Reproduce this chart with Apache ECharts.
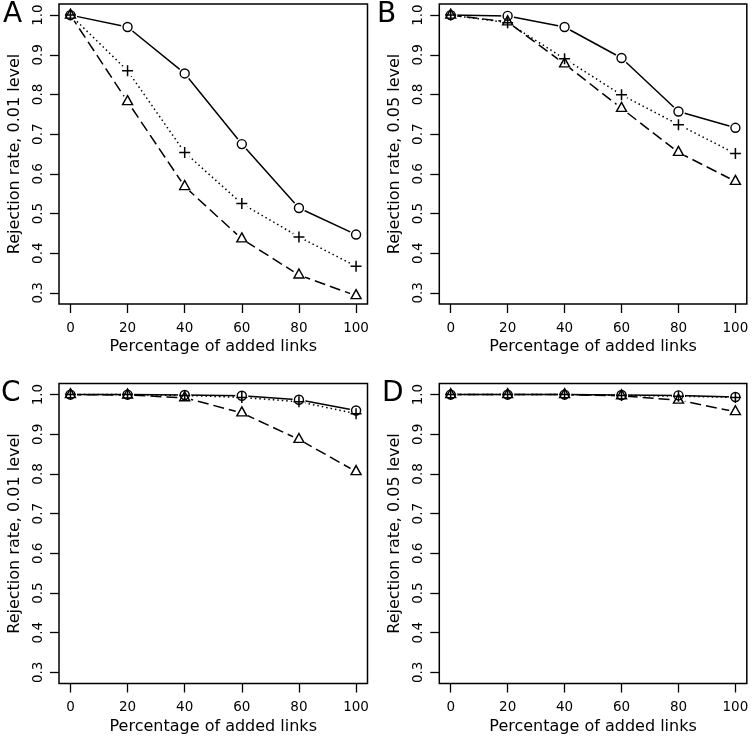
<!DOCTYPE html>
<html>
<head>
<meta charset="utf-8">
<script src="https://cdn.jsdelivr.net/npm/echarts@6/dist/echarts.min.js"></script>
<style>
  html, body { margin: 0; padding: 0; background: #fff; }
  #chart { width: 752px; height: 742px; }
</style>
</head>
<body>
<div id="chart"></div>
<script>
  // x values (percentage of added links)
  const xValues = [0, 20, 40, 60, 80, 100];
  const xTicks = [0, 20, 40, 60, 80, 100];
  const yTicks = [0.3, 0.4, 0.5, 0.6, 0.7, 0.8, 0.9, 1.0];

  // panel A: 0.01 level
  const circleA = [1.0, 0.970, 0.853, 0.675, 0.514, 0.447];
  const plusA   = [1.0, 0.860, 0.654, 0.525, 0.441, 0.367];
  const triA    = [1.0, 0.782, 0.568, 0.436, 0.345, 0.293];
  // panel B: 0.05 level
  const circleB = [1.0, 0.998, 0.970, 0.892, 0.757, 0.716];
  const plusB   = [1.0, 0.981, 0.890, 0.799, 0.724, 0.651];
  const triB    = [1.0, 0.983, 0.877, 0.765, 0.654, 0.581];
  // panel C: 0.01 level
  const circleC = [1.0, 1.0, 0.999, 0.997, 0.987, 0.960];
  const plusC   = [1.0, 1.0, 0.998, 0.993, 0.982, 0.952];
  const triC    = [1.0, 0.999, 0.992, 0.954, 0.887, 0.806];
  // panel D: 0.05 level
  const circleD = [1.0, 1.0, 1.0, 0.999, 0.998, 0.994];
  const plusD   = [1.0, 1.0, 1.0, 0.998, 0.996, 0.993];
  const triD    = [1.0, 1.0, 1.0, 0.997, 0.986, 0.957];

  const font = "'DejaVu Sans', sans-serif";

  const panels = [
    {letter: 'A', left: 59, top: 4, width: 308.5, circle: circleA, plus: plusA, tri: triA, yName: 'Rejection rate, 0.01 level', lx: 3, ly: 1},
    {letter: 'B', left: 439.3, top: 4, width: 307.5, circle: circleB, plus: plusB, tri: triB, yName: 'Rejection rate, 0.05 level', lx: 377, ly: 1},
    {letter: 'C', left: 59, top: 383.5, width: 308.5, circle: circleC, plus: plusC, tri: triC, yName: 'Rejection rate, 0.01 level', lx: 1, ly: 380},
    {letter: 'D', left: 439.3, top: 383.5, width: 307.5, circle: circleD, plus: plusD, tri: triD, yName: 'Rejection rate, 0.05 level', lx: 382, ly: 380}
  ];

  const pair = arr => arr.map((v, i) => [xValues[i], v]);
  const plusPath = 'path://M0,5L10,5M5,0L5,10';

  let grid = [], xAxis = [], yAxis = [], series = [], title = [];
  panels.forEach((p, k) => {
    grid.push({
      left: p.left, top: p.top, width: p.width, height: 300,
      show: true, borderColor: '#000', borderWidth: 1.5, backgroundColor: 'transparent'
    });
    title.push({
      text: p.letter, left: p.lx, top: p.ly, padding: 0,
      textStyle: {fontFamily: font, fontSize: 28, fontWeight: 'normal', color: '#000'}
    });
    xAxis.push({
      type: 'value', gridIndex: k, min: -4, max: 104,
      axisLine: {show: false, onZero: false},
      splitLine: {show: false},
      axisTick: {customValues: xTicks, length: 9, lineStyle: {color: '#000', width: 1.3}},
      axisLabel: {customValues: xTicks, margin: 17, color: '#000', fontSize: 13.5, fontFamily: font},
      name: 'Percentage of added links', nameLocation: 'middle', nameGap: 35,
      nameTextStyle: {color: '#000', fontSize: 16, fontFamily: font}
    });
    yAxis.push({
      type: 'value', gridIndex: k, min: 0.272, max: 1.028,
      axisLine: {show: false, onZero: false},
      splitLine: {show: false},
      axisTick: {customValues: yTicks, length: 9, lineStyle: {color: '#000', width: 1.3}},
      axisLabel: {customValues: yTicks, rotate: 90, margin: 14, color: '#000', fontSize: 13.5, fontFamily: font,
        formatter: v => v.toFixed(1)},
      name: p.yName, nameLocation: 'middle', nameGap: 36,
      nameTextStyle: {color: '#000', fontSize: 16, fontFamily: font}
    });

    // lines
    const lines = [
      {data: p.circle, type: 'solid'},
      {data: p.plus, type: [1.5, 3]},
      {data: p.tri, type: [11, 5]}
    ];
    lines.forEach(l => {
      series.push({
        type: 'line', xAxisIndex: k, yAxisIndex: k, data: pair(l.data),
        showSymbol: false, silent: true, animation: false, z: 1,
        lineStyle: {color: '#000', width: 1.5, type: l.type}
      });
    });
    // white gaps round the points (like type = "b")
    series.push({
      type: 'scatter', xAxisIndex: k, yAxisIndex: k,
      data: pair(p.circle).concat(pair(p.plus), pair(p.tri)),
      symbol: 'circle', symbolSize: 13, silent: true, animation: false, z: 2,
      itemStyle: {color: '#fff', opacity: 1}
    });
    // markers
    series.push({
      type: 'scatter', xAxisIndex: k, yAxisIndex: k, data: pair(p.circle),
      symbol: 'circle', symbolSize: 9, animation: false, z: 3,
      itemStyle: {color: 'none', opacity: 1, borderColor: '#000', borderWidth: 1.4}
    });
    series.push({
      type: 'scatter', xAxisIndex: k, yAxisIndex: k, data: pair(p.plus),
      symbol: plusPath, symbolSize: 11, animation: false, z: 3,
      itemStyle: {color: 'none', opacity: 1, borderColor: '#000', borderWidth: 1.5}
    });
    series.push({
      type: 'scatter', xAxisIndex: k, yAxisIndex: k, data: pair(p.tri),
      symbol: 'triangle', symbolSize: [10, 9], symbolOffset: [0, -1.5], animation: false, z: 3,
      itemStyle: {color: 'none', opacity: 1, borderColor: '#000', borderWidth: 1.4}
    });
  });

  const myChart = echarts.init(document.getElementById('chart'));
  myChart.setOption({
    backgroundColor: '#fff',
    animation: false,
    title: title,
    grid: grid,
    xAxis: xAxis,
    yAxis: yAxis,
    series: series
  });
</script>
</body>
</html>
